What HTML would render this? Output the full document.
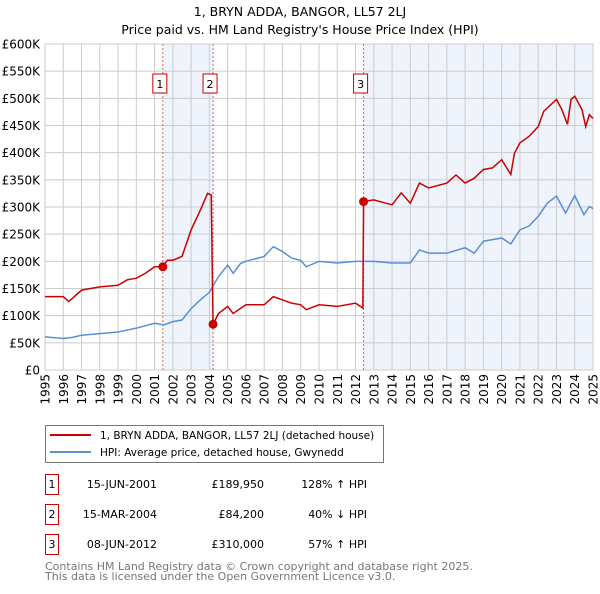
<!DOCTYPE html>
<html><head><meta charset="utf-8"><style>
body{margin:0;background:#fff;width:600px;height:590px;overflow:hidden;font-family:"DejaVu Sans","Liberation Sans",sans-serif;}
svg text{font-family:"DejaVu Sans","Liberation Sans",sans-serif;}
</style></head><body>
<svg id="c" width="600" height="590"></svg>
<script>
const hpiYears=[1995,1996,1996.5,1997,1998,1999,2000,2001,2001.5,2002,2002.5,2003,2003.5,2004,2004.5,2005,2005.3,2005.7,2006,2007,2007.5,2008,2008.5,2009,2009.3,2010,2011,2012,2013,2014,2015,2015.5,2016,2017,2018,2018.5,2019,2020,2020.5,2021,2021.5,2022,2022.5,2023,2023.5,2024,2024.5,2024.8,2025];
const hpiValues=[61,58,60,64,67,70,77,86,83,89,92,113,129,143,172,193,178,196,200,209,227,218,206,202,190,200,197,200,200,197,197,221,215,215,225,215,237,243,232,258,265,283,307,320,289,321,286,301,297];
const priceYears=[1995,1996,1996.3,1997,1998,1999,1999.5,2000,2000.5,2001,2001.45,2001.7,2002,2002.5,2003,2003.5,2003.9,2004.1,2004.2,2004.5,2005,2005.3,2006,2007,2007.5,2008,2008.5,2009,2009.3,2010,2011,2012,2012.4,2012.44,2013,2014,2014.5,2015,2015.5,2016,2017,2017.5,2018,2018.5,2019,2019.5,2020,2020.5,2020.7,2021,2021.5,2022,2022.3,2023,2023.3,2023.6,2023.8,2024,2024.4,2024.6,2024.8,2025];
const priceValues=[135,135,126,147,153,156,166,169,178,190,189.95,202,202,209,258,294,325,322,84.2,104,117,104,120,120,135,129,123,120,111,120,117,123,114,310,313,304,326,307,344,335,344,359,344,353,369,372,387,360,399,418,430,448,476,498,479,452,498,504,479,448,470,463];
const saleYears=[2001.45,2004.2,2012.44];
const saleValues=[189.95,84.2,310];
const saleLabels=["1","2","3"];
const yTicks=[0,50,100,150,200,250,300,350,400,450,500,550,600];
const yTickLabels=["£0","£50K","£100K","£150K","£200K","£250K","£300K","£350K","£400K","£450K","£500K","£550K","£600K"];
const xTicks=[1995,1996,1997,1998,1999,2000,2001,2002,2003,2004,2005,2006,2007,2008,2009,2010,2011,2012,2013,2014,2015,2016,2017,2018,2019,2020,2021,2022,2023,2024,2025];

const NS="http://www.w3.org/2000/svg";
const svg=document.getElementById('c');
const L=45,R=593,T=44,B=370;
const x=v=>L+(v-1995)/30*(R-L);
const y=v=>B-v/600*(B-T);
function el(t,a,p){const e=document.createElementNS(NS,t);for(const k in a)e.setAttribute(k,a[k]);(p||svg).appendChild(e);return e;}
function tx(s,a){const e=el('text',a);e.textContent=s;return e;}

let t=tx("1, BRYN ADDA, BANGOR, LL57 2LJ",{x:300,y:16,'text-anchor':'middle','font-size':12.5});

t=tx("Price paid vs. HM Land Registry's House Price Index (HPI)",{x:300,y:34,'text-anchor':'middle','font-size':12.5});


let s=el('rect',{x:x(saleYears[0]),y:T,width:x(saleYears[1])-x(saleYears[0]),height:B-T,fill:'#eef3fc'});

s=el('rect',{x:x(saleYears[2]),y:T,width:R-x(saleYears[2]),height:B-T,fill:'#eef3fc'});


yTicks.forEach((v,i)=>{
 const g=el('line',{x1:L,x2:R,y1:y(v),y2:y(v),stroke:'#cccccc','stroke-width':1});
 
 const lb=tx(yTickLabels[i],{x:40,y:y(v)+4.5,'text-anchor':'end','font-size':12});
 
});
xTicks.forEach(v=>{
 const g=el('line',{x1:x(v),x2:x(v),y1:T,y2:B,stroke:'#cccccc','stroke-width':1});
 
 const lb=tx(String(v),{x:0,y:0,'text-anchor':'end','font-size':12,transform:`translate(${x(v)+4.5},374) rotate(-90)`});
 
});
el('rect',{x:L,y:T,width:R-L,height:B-T,fill:'none',stroke:'#cccccc'});

saleYears.forEach((v,i)=>{
 const d=el('line',{x1:x(v),x2:x(v),y1:T,y2:B,stroke:'#e06060','stroke-width':1,'stroke-dasharray':'2,2'});
 
 const bx=el('rect',{x:x(v)-10,y:74,width:14,height:19,fill:'#fff',stroke:'#cc0000'});
 
 const lb=tx(saleLabels[i],{x:x(v)-3,y:88,'text-anchor':'middle','font-size':11});
 
});

const hp=el('polyline',{points:hpiYears.map((v,i)=>x(v)+','+y(hpiValues[i])).join(' '),fill:'none',stroke:'#5b8fd4','stroke-width':1.5});

const pp=el('polyline',{points:priceYears.map((v,i)=>x(v)+','+y(priceValues[i])).join(' '),fill:'none',stroke:'#cc0000','stroke-width':1.5});

saleYears.forEach((v,i)=>{
 const c=el('circle',{cx:x(v),cy:y(saleValues[i]),r:4.5,fill:'#cc0000'});
 
});

// legend
const lg=el('rect',{x:45.5,y:425.5,width:338,height:37,fill:'#fff',stroke:'#777'});

let ln=el('line',{x1:50,x2:91,y1:435,y2:435,stroke:'#cc0000','stroke-width':2});

t=tx("1, BRYN ADDA, BANGOR, LL57 2LJ (detached house)",{x:100,y:439,'font-size':10.5});

ln=el('line',{x1:50,x2:91,y1:452,y2:452,stroke:'#5b8fd4','stroke-width':2});

t=tx("HPI: Average price, detached house, Gwynedd",{x:100,y:456,'font-size':10.5});


const rows=[["15-JUN-2001","£189,950","128% ↑ HPI"],["15-MAR-2004","£84,200","40% ↓ HPI"],["08-JUN-2012","£310,000","57% ↑ HPI"]];
rows.forEach((r,i)=>{
 const cy=483+i*30;
 const b=el('rect',{x:45.5,y:cy-8.5,width:13,height:20,fill:'#fff',stroke:'#cc0000'});
 
 let q=tx(saleLabels[i],{x:52,y:cy+5,'text-anchor':'middle','font-size':11});
 
 q=tx(r[0],{x:157,y:cy+5,'text-anchor':'end','font-size':11});
 
 q=tx(r[1],{x:264,y:cy+5,'text-anchor':'end','font-size':11});
 
 q=tx(r[2],{x:367,y:cy+5,'text-anchor':'end','font-size':11});
 
});
t=tx("Contains HM Land Registry data © Crown copyright and database right 2025.",{x:45,y:570,'font-size':11,fill:'#777'});

t=tx("This data is licensed under the Open Government Licence v3.0.",{x:45,y:580,'font-size':11,fill:'#777'});

</script>
</body></html>
